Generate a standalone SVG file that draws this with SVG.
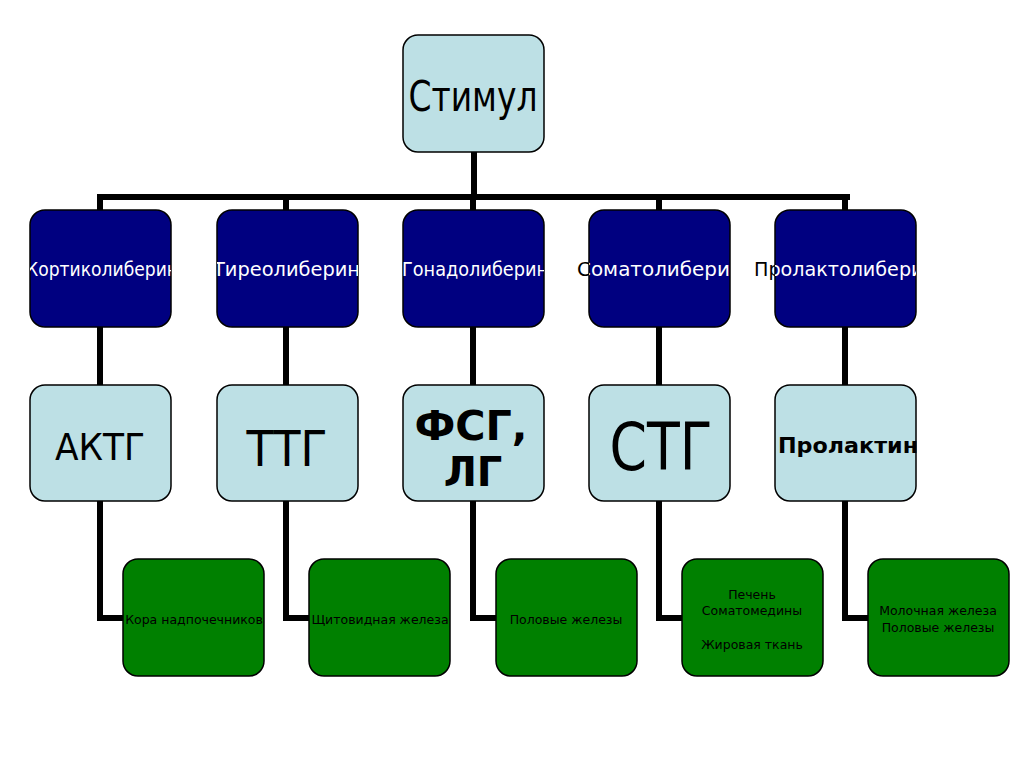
<svg xmlns="http://www.w3.org/2000/svg" width="1024" height="767" viewBox="0 0 1024 767">
<style>
.lb{fill:#bde0e5;stroke:#000;stroke-width:1.5}
.db{fill:#000080;stroke:#000;stroke-width:1.5}
.gb{fill:#008000;stroke:#000;stroke-width:1.5}
.con{fill:none;stroke:#000;stroke-width:6}
.t2{font-family:"DejaVu Sans",Verdana,sans-serif;font-size:19px;fill:#fff}
.t2k{font-family:"DejaVu Sans",Verdana,sans-serif;font-size:19px;fill:#000}
.big{font-family:"DejaVu Sans",Verdana,sans-serif;fill:#000;text-anchor:middle}
.bold{font-weight:bold}
.sm{font-family:"DejaVu Sans",Verdana,sans-serif;font-size:12.5px;fill:#000;text-anchor:middle}
</style>
<defs>
<clipPath id="c1"><rect x="30" y="210" width="141" height="117" rx="15"/></clipPath>
<clipPath id="c2"><rect x="217" y="210" width="141" height="117" rx="15"/></clipPath>
<clipPath id="c3"><rect x="403" y="210" width="141" height="117" rx="15"/></clipPath>
<clipPath id="c4"><rect x="589" y="210" width="141" height="117" rx="15"/></clipPath>
<clipPath id="c5"><rect x="775" y="210" width="141" height="117" rx="15"/></clipPath>
<clipPath id="o4"><rect x="560" y="240" width="29" height="60"/></clipPath>
<clipPath id="o5"><rect x="740" y="240" width="35" height="60"/></clipPath>
</defs>
<rect width="1024" height="767" fill="#fff"/>
<g id="connectors">
<path class="con" d="M474 152 V197 M97 197 H850 M100 197 V210 M286 197 V210 M473 197 V210 M659 197 V210 M845 197 V210"/>
<path class="con" d="M100 327 V385 M286 327 V385 M473 327 V385 M659 327 V385 M845 327 V385"/>
<path class="con" d="M100 501 V618 H123 M286 501 V618 H309 M473 501 V618 H496 M659 501 V618 H682 M845 501 V618 H868"/>
</g>
<g id="stimul">
<rect class="lb" x="403" y="35" width="141" height="117" rx="15"/>
<text class="big" x="473" y="111" font-size="42" textLength="129" lengthAdjust="spacingAndGlyphs">Стимул</text>
</g>
<g id="kortikoliberin">
<rect class="db" x="30" y="210" width="141" height="117" rx="15"/>
<text class="t2" x="26" y="276" textLength="152" lengthAdjust="spacingAndGlyphs" clip-path="url(#c1)">Кортиколиберин</text>
</g>
<g id="tireoliberin">
<rect class="db" x="217" y="210" width="141" height="117" rx="15"/>
<text class="t2" x="213" y="276" textLength="147" lengthAdjust="spacingAndGlyphs" clip-path="url(#c2)">Тиреолиберин</text>
</g>
<g id="gonadoliberin">
<rect class="db" x="403" y="210" width="141" height="117" rx="15"/>
<text class="t2" x="402" y="276" textLength="146" lengthAdjust="spacingAndGlyphs" clip-path="url(#c3)">Гонадолиберин</text>
</g>
<g id="somatoliberin">
<rect class="db" x="589" y="210" width="141" height="117" rx="15"/>
<text class="t2k" x="577" y="276" textLength="166" lengthAdjust="spacingAndGlyphs" clip-path="url(#o4)">Соматолиберин</text>
<text class="t2" x="577" y="276" textLength="166" lengthAdjust="spacingAndGlyphs" clip-path="url(#c4)">Соматолиберин</text>
</g>
<g id="prolaktoliberin">
<rect class="db" x="775" y="210" width="141" height="117" rx="15"/>
<text class="t2k" x="754" y="276" textLength="182" lengthAdjust="spacingAndGlyphs" clip-path="url(#o5)">Пролактолиберин</text>
<text class="t2" x="754" y="276" textLength="182" lengthAdjust="spacingAndGlyphs" clip-path="url(#c5)">Пролактолиберин</text>
</g>
<g id="aktg">
<rect class="lb" x="30" y="385" width="141" height="116" rx="15"/>
<text class="big" x="100" y="460" font-size="37" textLength="90" lengthAdjust="spacingAndGlyphs">АКТГ</text>
</g>
<g id="ttg">
<rect class="lb" x="217" y="385" width="141" height="116" rx="15"/>
<text class="big" x="287" y="466" font-size="49" textLength="81" lengthAdjust="spacingAndGlyphs">ТТГ</text>
</g>
<g id="fsg">
<rect class="lb" x="403" y="385" width="141" height="116" rx="15"/>
<text class="big bold" x="471" y="440" font-size="40" textLength="113" lengthAdjust="spacingAndGlyphs">ФСГ,</text>
<text class="big bold" x="473" y="486" font-size="40">ЛГ</text>
</g>
<g id="stg">
<rect class="lb" x="589" y="385" width="141" height="116" rx="15"/>
<text class="big" x="661" y="470" font-size="66" textLength="103" lengthAdjust="spacingAndGlyphs">СТГ</text>
</g>
<g id="prolaktin">
<rect class="lb" x="775" y="385" width="141" height="116" rx="15"/>
<text class="big bold" x="848" y="453" font-size="22" textLength="140" lengthAdjust="spacingAndGlyphs">Пролактин</text>
</g>
<g id="kora">
<rect class="gb" x="123" y="559" width="141" height="117" rx="15"/>
<text class="sm" x="194" y="624">Кора надпочечников</text>
</g>
<g id="shchitovidnaya">
<rect class="gb" x="309" y="559" width="141" height="117" rx="15"/>
<text class="sm" x="380" y="624">Щитовидная железа</text>
</g>
<g id="polovye">
<rect class="gb" x="496" y="559" width="141" height="117" rx="15"/>
<text class="sm" x="566" y="624">Половые железы</text>
</g>
<g id="pechen">
<rect class="gb" x="682" y="559" width="141" height="117" rx="15"/>
<text class="sm" x="752" y="599">Печень</text>
<text class="sm" x="752" y="615">Соматомедины</text>
<text class="sm" x="752" y="649">Жировая ткань</text>
</g>
<g id="molochnaya">
<rect class="gb" x="868" y="559" width="141" height="117" rx="15"/>
<text class="sm" x="938" y="615">Молочная железа</text>
<text class="sm" x="938" y="632">Половые железы</text>
</g>
</svg>
